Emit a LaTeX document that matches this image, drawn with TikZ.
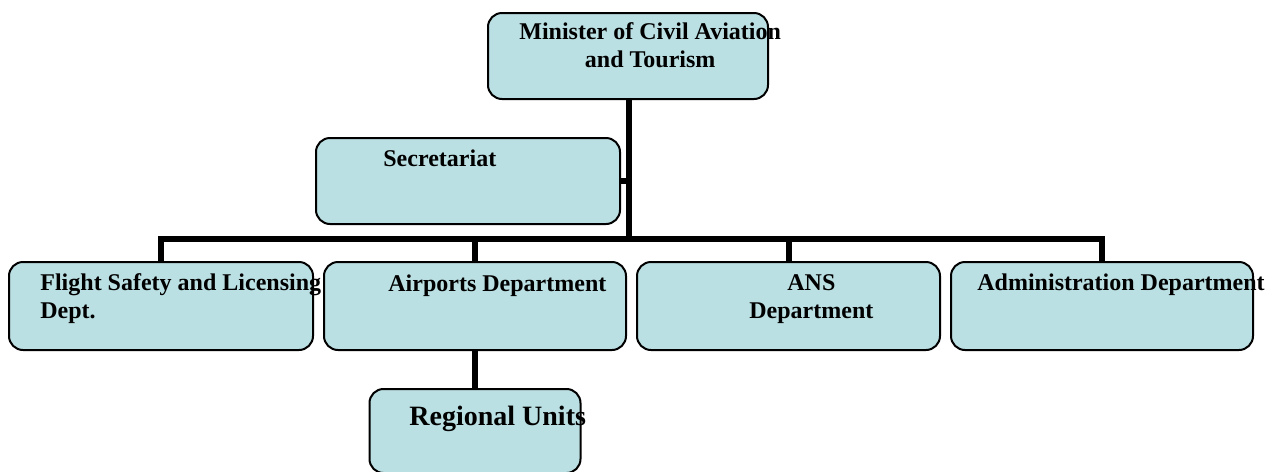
\documentclass[tikz,border=0pt]{standalone}
\usepackage{fontspec}
\setmainfont{Liberation Serif}
\usetikzlibrary{positioning}
\definecolor{unitfill}{RGB}{187,224,227}

\begin{document}
\begin{tikzpicture}[x=0.5pt,y=-0.5pt,node distance=4.5pt,
    unit/.style={draw, fill=unitfill, line width=1pt, rounded corners=7pt,
        inner sep=0pt, minimum width=152pt, minimum height=44pt},
    lbl/.style={anchor=base west, inner sep=0pt,
        font=\fontsize{12}{14}\selectfont\bfseries},
    link/.style={line width=3pt}]
    \useasboundingbox (0,0) rectangle (1266,472);

    \node[unit, minimum width=140pt, minimum height=43pt] (minister) at (628,56) {};
    \node[unit, minimum height=43pt] (secretariat) at (468,181) {};
    \node[unit]                             (flight)                          at (161,306) {};
    \node[unit, minimum width=151pt]        (airports) [right=of flight]      {};
    \node[unit, minimum width=151.5pt]      (ans)      [right=of airports]    {};
    \node[unit, minimum width=151pt]        (admin)    [right=of ans]         {};
    \node[unit, minimum width=105.5pt, minimum height=42pt]
                                            (regional) [below=18.5pt of airports] {};

    \coordinate (hub) at (629,239);
    \draw[link] (minister.south -| hub) -- (hub);
    \draw[link] (secretariat.east) -- (secretariat.east -| hub);
    \draw[link] (hub) -| (flight.north);
    \draw[link] (hub) -| (airports.north);
    \draw[link] (hub) -| (ans.north);
    \draw[link] (hub) -| (admin.north);
    \draw[link] (airports.south) -- (airports.south |- regional.north);

    % two-line labels sit on the baseline of their last line
    \node[lbl, align=center] (minister-txt)    at (519,67)  {Minister of Civil Aviation\\and Tourism};
    \node[lbl]               (secretariat-txt) at (383,166) {Secretariat};
    \node[lbl, align=left]   (flight-txt)      at (40,318)  {Flight Safety and Licensing\\Dept.};
    \node[lbl]               (airports-txt)    at (388,291) {Airports Department};
    \node[lbl, align=center] (ans-txt)         at (749,318) {ANS\\Department};
    \node[lbl]               (admin-txt)       at (977,290) {Administration Department};
    \node[lbl, font=\fontsize{14}{17}\selectfont\bfseries]
                             (regional-txt)    at (409,425) {Regional Units};
\end{tikzpicture}
\end{document}
